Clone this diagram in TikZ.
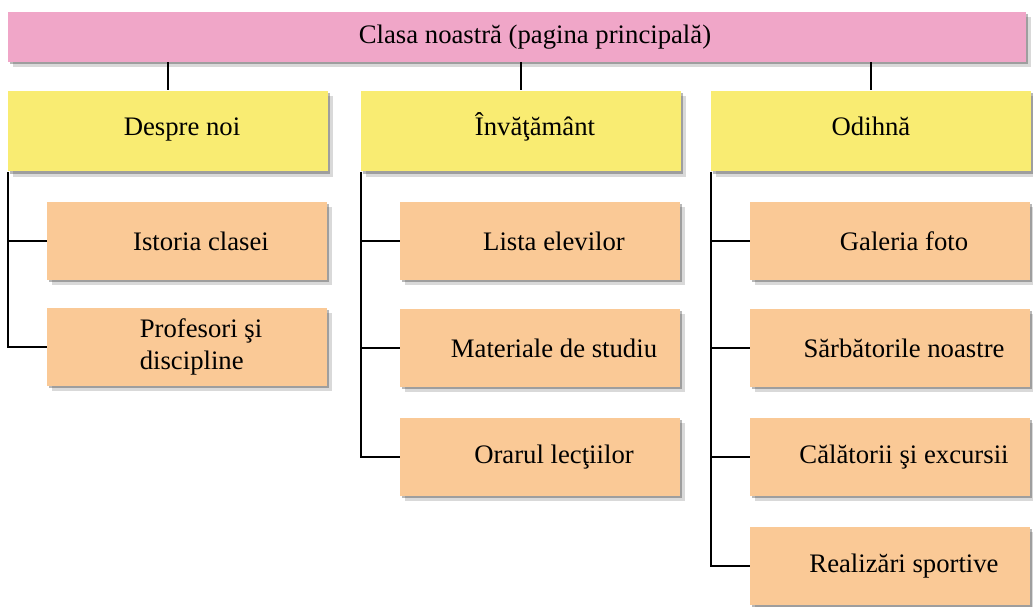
\documentclass[tikz,border=0pt]{standalone}
\usepackage{fontspec}
\setmainfont{Liberation Serif}
\usetikzlibrary{shadows}
\usetikzlibrary{positioning}

\definecolor{barpink}{RGB}{240,166,200}
\definecolor{headyellow}{RGB}{249,236,114}
\definecolor{itemorange}{RGB}{250,201,150}

\newcommand{\pad}{\hspace*{5.6mm}}

\begin{document}
\begin{tikzpicture}[
    x=0.02cm, y=-0.02cm,
    box/.style={rectangle, inner sep=0pt, align=center, font=\fontsize{15.2}{18}\selectfont,
        drop shadow={shadow xshift=3pt, shadow yshift=-3pt, opacity=0.15, fill=black},
        drop shadow={shadow xshift=1.3pt, shadow yshift=-1.3pt, opacity=0.35, fill=black!80}},
    topbar/.style={box, fill=barpink, minimum width=20.36cm, minimum height=1cm},
    head/.style={box, fill=headyellow, minimum width=6.4cm, minimum height=1.62cm,
        text height=0.7em, text depth=0.22em},
    item/.style={box, fill=itemorange, minimum width=5.6cm, minimum height=1.56cm},
    link/.style={line width=1.1pt}
]

\useasboundingbox (0,0) rectangle (1033,607);

% --- Main page ---
\node[topbar] (top) at (517,37) {\hspace*{7.2mm}Clasa noastră (pagina principală)};

% --- Section headings ---
\node[head] (h1) at (168,131) {\pad Despre noi};
\node[head] (h2) at (521,131) {\pad Învăţământ};
\node[head] (h3) at (871,131) {Odihnă};

% --- Items of the first section ---
\node[item] (i11) at (187,241) {\pad Istoria clasei};
\node[item, align=left] (i12) at (187,347) {\pad Profesori şi\\\pad discipline};

% --- Items of the second section ---
\node[item] (i21) at (540,241) {\pad Lista elevilor};
\node[item] (i22) at (540,348) {\pad Materiale de studiu};
\node[item] (i23) at (540,457) {\pad Orarul lecţiilor};

% --- Items of the third section ---
\node[item] (i31) at (890,241) {\pad Galeria foto};
\node[item] (i32) at (890,348) {\pad Sărbătorile noastre};
\node[item] (i33) at (890,457) {\pad Călătorii şi excursii};
\node[item] (i34) at (890,566) {\pad Realizări sportive};

% --- Main page to headings ---
\foreach \h in {h1,h2,h3}
    \draw[link] (\h.north |- top.south) -- (\h.north);

% --- Headings to items ---
\foreach \j in {1,2}
    \draw[link] (h1.south west) |- (i1\j.west);
\foreach \j in {1,...,3}
    \draw[link] (h2.south west) |- (i2\j.west);
\foreach \j in {1,...,4}
    \draw[link] (h3.south west) |- (i3\j.west);

\end{tikzpicture}
\end{document}
